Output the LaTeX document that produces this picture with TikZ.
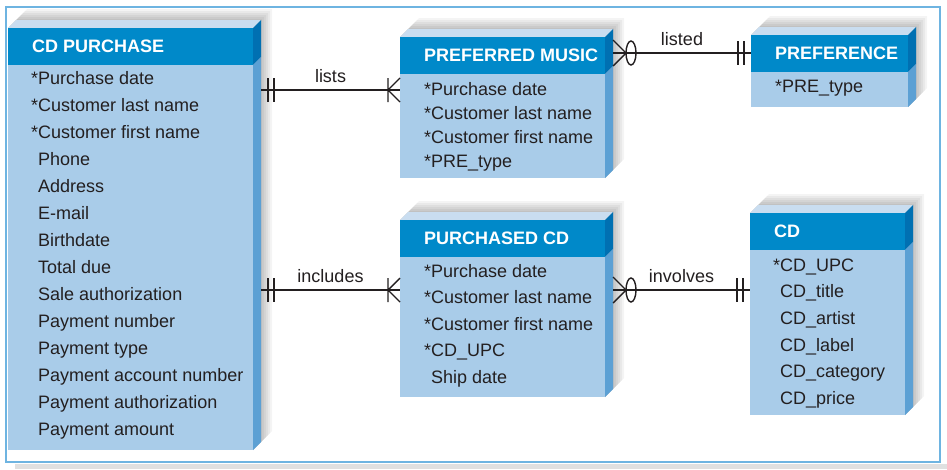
\documentclass[tikz,border=0pt]{standalone}
\usepackage{fontspec}
\setmainfont{Liberation Sans}
\usetikzlibrary{calc}
\definecolor{headblue}{RGB}{0,137,201}
\definecolor{bodyblue}{RGB}{169,204,233}
\definecolor{topblue}{RGB}{201,221,240}
\definecolor{sidedark}{RGB}{0,112,178}
\definecolor{sidelight}{RGB}{92,160,212}
\definecolor{framec}{RGB}{110,180,225}
\definecolor{txt}{RGB}{35,31,32}
\tikzset{
    attr/.style={anchor=base west, inner sep=0pt, text=txt, font=\fontsize{18}{22}\selectfont},
    headtxt/.style={anchor=west, inner sep=0pt, text=white, font=\fontsize{18}{22}\selectfont\bfseries},
    body/.style={rectangle, fill=bodyblue, anchor=north west, inner sep=0pt},
    rel/.style={draw=txt, line width=1.4pt},
    lbl/.style={midway, anchor=base, yshift=8pt, inner sep=0pt, text=txt, font=\fontsize{18}{22}\selectfont},
    frame/.style={draw=framec, line width=1.6pt}
}
% relationship ends: #1 point on the entity edge, #2 = 1 or -1 (side of the line)
\newcommand{\onlyone}[2]{\draw[rel] ($(#1)+(#2*7,-12)$) -- ++(0,24) ($(#1)+(#2*13,-12)$) -- ++(0,24);}
\newcommand{\onemany}[2]{\draw[rel] ($(#1)+(#2*12,-12)$) -- ++(0,24) ($(#1)+(0,-12)$) -- ($(#1)+(#2*12,0)$) -- ($(#1)+(0,12)$);}
\newcommand{\zeromany}[2]{\draw[rel] ($(#1)+(0,-13)$) -- ($(#1)+(#2*13,0)$) -- ($(#1)+(0,13)$);
    \draw[rel] ($(#1)+(#2*18,0)$) ellipse [x radius=5, y radius=12];}

\begin{document}
\begin{tikzpicture}[x=1pt, y=-1pt]

    \useasboundingbox (0,0) rectangle (947,469);
    \fill[white] (0,0) rectangle (947,469);
    \fill[black!12] (15,464) rectangle (947,469);
    \draw[frame] (6,7) rectangle (940,462);

    % Entities
    \foreach \n/\x/\y/\w/\h/\hd in {pur/8/28/245/422/CD PURCHASE, pm/400/37/205/141/PREFERRED MUSIC,
        pref/751/35/157/72/PREFERENCE, pc/400/220/205/177/PURCHASED CD, cd/750/213/155/202/CD} {
        \foreach \s in {19,17,...,9}
            \fill[black, opacity=0.045] (\x,\y) -- ++(\s,-\s) -- ++(\w,0) -- ++(0,\h) -- ($(\x,\y)+(\w,\h)$) -- cycle;
        \fill[topblue] (\x,\y) -- ++(8,-8) -- ++(\w,0) -- ++(-8,8) -- cycle;
        \fill[sidedark] ($(\x,\y)+(\w,0)$) -- ++(8,-8) -- ++(0,37) -- ++(-8,8) -- cycle;
        \fill[sidelight] ($(\x,\y)+(\w,37)$) -- ++(8,-8) -- ++(0,\h-37) -- ++(-8,8) -- cycle;
        \node[body, minimum width=\w, minimum height=\h] (\n) at (\x,\y) {};
        \fill[headblue] (\n.north west) rectangle ++(\w,37);
        \node[headtxt] (\n-h) at ($(\x,\y)+(24,18.5)$) {\hd};
        \coordinate (\n-r) at ($(\x,\y)+(\w+8,0)$);
    }

    % Attributes
    \foreach \t [count=\i] in {*Purchase date, *Customer last name, *Customer first name,
        \phantom{*}Phone, \phantom{*}Address, \phantom{*}E-mail, \phantom{*}Birthdate,
        \phantom{*}Total due, \phantom{*}Sale authorization, \phantom{*}Payment number,
        \phantom{*}Payment type, \phantom{*}Payment account number,
        \phantom{*}Payment authorization, \phantom{*}Payment amount}
        \node[attr] (pur-\i) at (31,{84.5+27*(\i-1)}) {\t};
    \foreach \t [count=\i] in {*Purchase date, *Customer last name, *Customer first name, *PRE\_type}
        \node[attr] (pm-\i) at (424,{95+24*(\i-1)}) {\t};
    \node[attr] (pref-1) at (775,92) {*PRE\_type};
    \foreach \t [count=\i] in {*Purchase date, *Customer last name, *Customer first name,
        *CD\_UPC, \phantom{*}Ship date}
        \node[attr] (pc-\i) at (424,{277+26.5*(\i-1)}) {\t};
    \foreach \t [count=\i] in {*CD\_UPC, \phantom{*}CD\_title, \phantom{*}CD\_artist,
        \phantom{*}CD\_label, \phantom{*}CD\_category, \phantom{*}CD\_price}
        \node[attr] (cd-\i) at (773,{271+26.7*(\i-1)}) {\t};

    % Relationships
    \coordinate (lv-lists) at (0,90);
    \coordinate (lv-listed) at (0,53);
    \coordinate (lv-incl) at (0,290);

    \draw[rel] (pur-r |- lv-lists) -- (pm.west |- lv-lists) node[lbl] {lists};
    \onlyone{pur-r |- lv-lists}{1}
    \onemany{pm.west |- lv-lists}{-1}

    \draw[rel] (pm-r |- lv-listed) -- (pref.west |- lv-listed) node[lbl] {listed};
    \zeromany{pm-r |- lv-listed}{1}
    \onlyone{pref.west |- lv-listed}{-1}

    \draw[rel] (pur-r |- lv-incl) -- (pc.west |- lv-incl) node[lbl] {includes};
    \onlyone{pur-r |- lv-incl}{1}
    \onemany{pc.west |- lv-incl}{-1}

    \draw[rel] (pc-r |- lv-incl) -- (cd.west |- lv-incl) node[lbl] {involves};
    \zeromany{pc-r |- lv-incl}{1}
    \onlyone{cd.west |- lv-incl}{-1}

\end{tikzpicture}
\end{document}
